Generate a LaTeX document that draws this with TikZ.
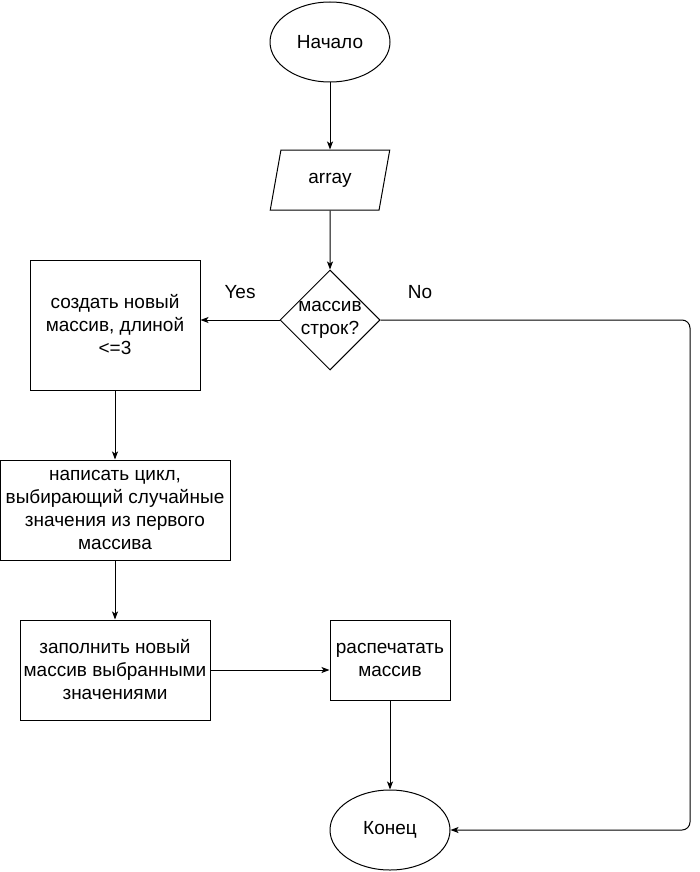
\documentclass[tikz,border=0pt]{standalone}
\usepackage{fontspec}
\setmainfont{Liberation Sans}
\usetikzlibrary{shapes.geometric,arrows.meta}

\begin{document}
\begin{tikzpicture}[x=1pt, y=-1pt, line width=1pt,
    font=\fontsize{19}{23}\selectfont,
    every node/.style={align=center},
    term/.style={ellipse, draw, minimum width=120pt, minimum height=80pt, inner sep=0pt},
    io/.style={trapezium, draw, trapezium left angle=71.6, trapezium right angle=108.4,
        trapezium stretches=true, minimum width=120pt, minimum height=60pt, inner sep=0pt},
    cond/.style={diamond, draw, minimum width=100pt, minimum height=100pt, inner sep=0pt},
    proc/.style={rectangle, draw, inner sep=0pt},
    arr/.style={-{Stealth[length=8pt,width=6pt,inset=2pt]}}]
        \useasboundingbox (0,0) rectangle (700,872);

        % Nodes
        \node(start) [term] at (330,42) {Начало};
        \node(inp) [io] at (330,180) {array};
        \node(check) [cond, label={[align=center]center:массив\\строк?}] at (330,320) {};
        \node(create) [proc, minimum width=170pt, minimum height=130pt] at (115,325) {создать новый\\массив, длиной\\<=3};
        \node(loop) [proc, minimum width=230pt, minimum height=100pt] at (115,510) {написать цикл,\\выбирающий случайные\\значения из первого\\массива};
        \node(fill) [proc, minimum width=190pt, minimum height=100pt] at (115,670) {заполнить новый\\массив выбранными\\значениями};
        \node(print) [proc, minimum width=120pt, minimum height=80pt] at (390,660) {распечатать\\массив};
        \node(stop) [term] at (390,830) {Конец};
        \node(yes) at (240,292) {Yes};
        \node(no) at (420,292) {No};
        \coordinate(turn) at (690,320);

        % Edges
        \draw[arr] (start) -- (inp);
        \draw[arr] (inp) -- (check);
        \draw[arr] (check.west) -- (check.west -| create.east);
        \draw[arr, rounded corners=8pt] (check.east) -- (turn) |- (stop.east);
        \draw[arr] (create) -- (loop);
        \draw[arr] (loop) -- (fill);
        \draw[arr] (fill.east) -- (fill.east -| print.west);
        \draw[arr] (print) -- (stop);

    \end{tikzpicture}
\end{document}
